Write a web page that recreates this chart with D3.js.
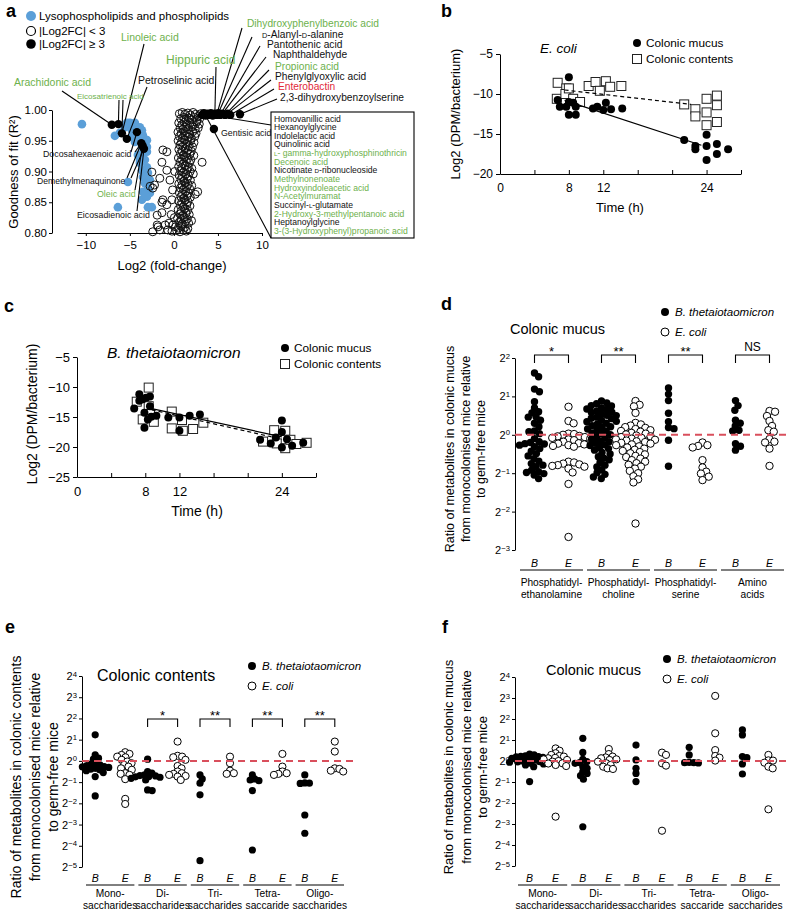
<!DOCTYPE html>
<html><head><meta charset="utf-8">
<script src="https://cdn.jsdelivr.net/npm/d3@7/dist/d3.min.js"></script>
<style>html,body{margin:0;padding:0;background:#fff;} svg{display:block;}</style>
</head><body>
<svg id="fig" width="788" height="911"></svg>
<script>
// ================= DATA =================
// ---- Panel a : [log2 fold-change, goodness of fit R2]
const aLysoPoints = [
 [-10.44,0.977],[-6.70,0.958],[-6.13,0.963],[-5.56,0.972],[-4.99,0.979],[-4.43,0.979],[-3.86,0.972],
 [-4.77,0.967],[-4.09,0.963],[-3.52,0.959],[-3.63,0.948],[-4.43,0.948],[-4.77,0.956],[-3.06,0.940],
 [-3.52,0.930],[-4.09,0.927],[-3.29,0.919],[-3.86,0.914],[-3.06,0.907],[-3.63,0.902],[-2.95,0.898],
 [-3.52,0.891],[-2.72,0.886],[-3.29,0.881],[-2.95,0.873],[-3.52,0.867],[-2.72,0.865],[-3.06,0.859],
 [-6.36,0.842],[-5.22,0.883],[-2.50,0.842],[-3.86,0.919],[-3.06,0.932],[-3.63,0.940],[-5.33,0.979],
 [-4.20,0.972],[-3.63,0.967],[-3.06,0.951],[-3.86,0.956],[-2.95,0.842],[-3.63,0.854],[-3.29,0.862]
];
const aOpenPoints = [
 [0.62,0.994],[0.95,0.996],[1.24,0.993],[1.57,0.995],[1.86,0.992],[2.18,0.996],[2.47,0.993],[2.78,0.990],[3.05,0.994],
 [0.78,0.986],[1.12,0.988],[1.41,0.985],[1.73,0.987],[2.02,0.984],[2.33,0.988],[2.62,0.983],[2.93,0.986],
 [0.55,0.979],[0.92,0.976],[1.18,0.980],[1.52,0.977],[1.83,0.979],[2.21,0.976],[2.57,0.980],[2.88,0.977],
 [0.71,0.971],[1.04,0.969],[1.37,0.972],[1.68,0.970],[2.07,0.973],[2.42,0.969],[2.76,0.971],
 [0.46,0.964],[0.83,0.962],[1.13,0.965],[1.47,0.963],[1.79,0.961],[2.16,0.965],[2.51,0.962],
 [0.62,0.957],[0.97,0.955],[1.29,0.958],[1.66,0.956],[1.98,0.954],[2.37,0.957],
 [0.48,0.950],[0.86,0.948],[1.21,0.951],[1.54,0.949],[1.91,0.950],[2.28,0.947],
 [0.69,0.943],[1.02,0.941],[1.36,0.944],[1.72,0.942],[2.11,0.940],
 [0.56,0.936],[0.91,0.934],[1.26,0.937],[1.61,0.935],[1.97,0.933],
 [0.74,0.929],[1.08,0.927],[1.44,0.930],[1.81,0.928],[2.26,0.926],
 [0.51,0.922],[0.87,0.920],[1.19,0.923],[1.56,0.921],[1.92,0.919],
 [0.70,0.915],[1.06,0.913],[1.41,0.916],[1.77,0.914],[3.20,0.915],
 [0.54,0.908],[0.89,0.906],[1.24,0.909],[1.62,0.907],[2.03,0.905],
 [0.76,0.901],[1.11,0.899],[1.46,0.902],[1.84,0.900],[2.20,0.896],
 [0.59,0.894],[0.96,0.892],[1.31,0.895],[1.66,0.893],
 [0.81,0.887],[1.16,0.885],[1.51,0.888],[1.87,0.886],
 [0.56,0.880],[0.91,0.878],[1.26,0.881],[1.61,0.879],[2.02,0.877],
 [0.74,0.873],[1.09,0.871],[1.44,0.874],[1.79,0.872],[2.70,0.867],
 [0.61,0.866],[0.97,0.864],[1.32,0.867],[1.67,0.865],[2.42,0.863],
 [0.79,0.859],[1.14,0.857],[1.49,0.860],[1.86,0.858],
 [0.54,0.852],[0.89,0.850],[1.24,0.853],[1.59,0.851],
 [0.73,0.845],[1.08,0.843],[1.46,0.846],[1.82,0.844],
 [0.49,0.838],[0.84,0.836],[1.21,0.839],[1.56,0.837],[2.00,0.820],
 [0.68,0.831],[1.03,0.829],[1.38,0.832],[1.74,0.830],
 [0.41,0.824],[0.79,0.822],[1.14,0.825],[1.52,0.823],
 [0.58,0.817],[0.94,0.815],[1.31,0.818],[1.67,0.816],
 [0.18,0.810],[0.51,0.808],[0.86,0.811],[1.22,0.809],[1.58,0.807],
 [-0.22,0.803],[0.31,0.804],[0.69,0.802],[1.06,0.805],[1.41,0.803],
 [-1.25,0.935],[-0.80,0.932],[-1.36,0.915],[-0.80,0.902],[-2.50,0.899],[-1.60,0.889],[-2.40,0.873],
 [-2.70,0.876],[-0.45,0.886],[-1.25,0.854],[-0.23,0.854],[-1.36,0.850],[-0.80,0.846],[-1.36,0.833],
 [-1.90,0.829],[-1.80,0.810],[-2.40,0.802],[-1.90,0.813],[-1.00,0.813],[-0.55,0.816],[-1.60,0.805],
 [-0.70,0.805],[-0.10,0.813],[0.05,0.825],[-0.30,0.830],[-0.15,0.870],[0.10,0.900],[-2.20,0.878]
];
const aFilledPoints = [
 [-7.05,0.976],[-6.30,0.977],[-5.90,0.962],[-5.34,0.953],[-4.20,0.964],[-3.70,0.946],[-3.40,0.937],[-3.55,0.942],
 [3.20,0.992],[3.40,0.995],[3.60,0.991],[3.80,0.994],[4.00,0.992],[4.20,0.995],[4.40,0.991],[4.65,0.994],
 [4.85,0.992],[5.05,0.995],[5.25,0.992],[5.50,0.994],[5.80,0.992],[6.10,0.994],[6.40,0.992],[7.50,0.993],
 [4.54,0.969]
];
const aXTicks = [-10,-5,0,5,10];
const aYTicks = [0.80,0.85,0.90,0.95,1.00];
const aLegendLabels = ["Lysophospholipids and phospholipids","|Log2FC| < 3","|Log2FC| \u2265 3"];
// compound labels: text, class (0 black, 1 green, 2 red), index of linked point(s)
const aNamedLeft = [
 ["Arachidonic acid",1,[0]],["Eicosatrienoic acid",1,[1,2]],["Linoleic acid",1,[2]],["Petroselinic acid",0,[3]],
 ["Docosahexaenoic acid",0,[4,5]],["Demethylmenaquinone",0,[5,6]],["Oleic acid",1,[7]],["Eicosadienoic acid",0,[6]]
];
const aNamedTop = [
 ["Hippuric acid",1,15],["Dihydroxyphenylbenzoic acid",1,16],["{D}-Alanyl-{D}-alanine",0,17],["Pantothenic acid",0,18],
 ["Naphthaldehyde",0,19],["Propionic acid",1,20],["Phenylglyoxylic acid",0,21],["Enterobactin",2,22],
 ["2,3-dihydroxybenzoylserine",0,23]
];
const aGentisic = ["Gentisic acid",0,24];
const aBoxLabels = ["Homovanillic acid","Hexanoylglycine","Indolelactic acid","Quinolinic acid",
 "{L}- gamma-hydroxyphosphinothricin","Decenoic acid","Nicotinate {D}-ribonucleoside","Methylnonenoate",
 "Hydroxyindoleacetic acid","N-Acetylmuramat","Succinyl-{L}-glutamate","2-Hydroxy-3-methylpentanoic acid",
 "Heptanoylglycine","3-(3-Hydroxyphenyl)propanoic acid"];
const aBoxClass = [0,0,0,0,1,1,0,1,1,1,0,1,0,1];
const aBoxLinks = [12,10];

// ---- Panel b (E. coli): [time h, log2 DPM/bacterium]
const bMucus = [[6.7,-10.75],[6.95,-11.6],[7.7,-11.6],[8.0,-7.9],[8.0,-11.0],[8.0,-12.6],[8.8,-12.6],[8.8,-11.6],
 [8.5,-11.1],[10.8,-11.8],[11.3,-11.6],[12.3,-11.1],[12.0,-12.0],[12.9,-11.9],[14.2,-11.8],[21.4,-15.75],
 [22.7,-16.5],[22.7,-16.9],[24.0,-15.1],[24.0,-16.5],[24.0,-18.25],[25.2,-16.25],[25.2,-17.5],[26.5,-16.9]];
const bContents = [[6.7,-8.6],[6.6,-10.6],[7.7,-9.3],[7.6,-10.0],[8.0,-9.3],[8.5,-10.6],[9.3,-11.0],[10.3,-9.0],
 [11.1,-8.5],[11.6,-9.6],[12.3,-8.4],[12.8,-9.1],[14.1,-9.0],[21.4,-11.3],[22.7,-11.9],[22.7,-12.8],
 [24.0,-10.6],[24.0,-12.3],[24.0,-13.9],[25.2,-10.2],[25.2,-11.4],[25.2,-13.5]];
const bFitMucus = [[7.5,-10.8],[23.4,-16.4]];
const bFitContents = [[7.5,-9.5],[22.2,-11.3]];
// ---- Panel c (B. thetaiotaomicron)
const cMucus = [[6.7,-13.6],[7.3,-11.2],[7.3,-12.3],[7.7,-12.05],[8.1,-11.8],[7.9,-14.3],[7.9,-16.8],[8.3,-15.4],
 [8.55,-11.6],[8.55,-13.2],[8.7,-14.95],[9.3,-14.8],[10.7,-15.1],[12.0,-15.1],[12.0,-17.3],[13.2,-14.8],
 [14.4,-14.6],[21.45,-18.8],[22.7,-19.4],[23.3,-18.4],[24.0,-15.6],[24.0,-17.5],[24.0,-20.1],[24.6,-18.7],
 [25.2,-19.8],[26.5,-19.3]];
const cContents = [[7.0,-12.45],[7.7,-15.4],[8.4,-10.1],[8.4,-13.2],[8.55,-14.5],[9.0,-15.8],[11.1,-14.1],[11.1,-16.9],
 [12.3,-15.5],[12.4,-17.3],[13.6,-17.0],[14.8,-15.95],[21.8,-19.1],[23.1,-17.2],[23.4,-19.4],[24.4,-17.3],
 [24.4,-20.2],[25.0,-18.8],[25.7,-19.5],[26.9,-19.3]];
const cFitMucus = [[8.75,-13.6],[24.0,-18.3]];
const cFitContents = [[8.75,-13.8],[24.0,-18.7]];
const timeTicks = [0,4,8,12,16,20,24,28];
const timeLabels = [0,8,12,24];
const bYTicks = [-20,-15,-10,-5];
const cYTicks = [-25,-20,-15,-10,-5];
const legendBC = ["Colonic mucus","Colonic contents"];

// ---- Panel d : log2 ratio, colonic mucus (B = B. thetaiotaomicron, E = E. coli)
const dGroups = ["Phosphatidyl-|ethanolamine","Phosphatidyl-|choline","Phosphatidyl-|serine","Amino|acids"];
const dPE_B = [1.61,1.51,1.19,1.12,0.86,0.70,0.60,0.57,0.47,0.46,0.38,0.30,0.21,0.10,0.08,0.03,-0.10,-0.18,-0.20,
 -0.23,-0.24,-0.27,-0.31,-0.36,-0.43,-0.49,-0.55,-0.62,-0.69,-0.75,-0.79,-0.83,-0.92,-0.96,-0.98,-1.01,-1.05,-1.14];
const dPE_E = [0.73,0.36,0.30,0.03,0.02,0.00,-0.03,-0.04,-0.06,-0.08,-0.10,-0.12,-0.14,-0.18,-0.22,-0.23,-0.25,
 -0.27,-0.29,-0.31,-0.70,-0.72,-0.75,-0.77,-0.79,-0.81,-0.83,-0.88,-0.98,-1.28,-2.66];
const dPC_B = [0.88,0.83,0.81,0.76,0.75,0.70,0.67,0.66,0.62,0.59,0.58,0.54,0.51,0.50,0.46,0.43,0.42,0.38,0.35,0.34,
 0.30,0.28,0.24,0.21,0.19,0.15,0.12,0.10,0.05,0.03,0.00,-0.05,-0.08,-0.11,-0.16,-0.18,-0.22,-0.26,-0.28,-0.33,
 -0.36,-0.40,-0.46,-0.50,-0.57,-0.61,-0.65,-0.72,-0.79,-0.84,-0.91,-0.99,-1.03,-1.10,-1.14];
const dPC_E = [0.88,0.78,0.74,0.57,0.31,0.27,0.24,0.20,0.18,0.15,0.12,0.10,0.08,0.05,0.03,0.01,-0.02,-0.04,-0.06,
 -0.08,-0.10,-0.12,-0.13,-0.15,-0.17,-0.19,-0.21,-0.23,-0.25,-0.27,-0.30,-0.33,-0.36,-0.39,-0.42,-0.45,-0.48,
 -0.51,-0.55,-0.58,-0.62,-0.66,-0.70,-0.74,-0.78,-0.83,-0.88,-0.94,-1.00,-1.08,-1.16,-1.24,-2.31];
const dPS_B = [1.22,1.06,0.89,0.56,0.34,0.19,0.16,-0.14,-0.82];
const dPS_E = [-0.20,-0.27,-0.29,-0.33,-0.66,-0.85,-0.96,-1.01,-1.09,-1.18];
const dAA_B = [0.89,0.76,0.64,0.38,0.30,0.23,0.12,0.10,-0.23,-0.30,-0.40];
const dAA_E = [0.62,0.60,0.49,0.36,0.23,0.12,0.08,-0.11,-0.18,-0.20,-0.36,-0.81];
const dSig = ["*","**","**","NS"];
const powTicksD = [-3,-2,-1,0,1,2];

// ---- Panel e : colonic contents, saccharides
const sGroups = ["Mono-|saccharides","Di-|saccharides","Tri-|saccharides","Tetra-|saccaride","Oligo-|saccharides"];
const eMono_B = [1.23,0.28,0.13,0.08,-0.11,-0.14,-0.19,-0.22,-0.27,-0.28,-0.31,-0.35,-0.39,-0.42,-0.46,-0.55,-0.74,-1.65];
const eMono_E = [0.41,0.33,0.28,0.20,0.17,0.05,-0.03,-0.11,-0.19,-0.27,-0.35,-0.42,-0.58,-0.61,-0.66,-0.86,-1.79,-2.03];
const eDi_B = [0.08,-0.50,-0.58,-0.66,-0.69,-0.71,-0.74,-0.75,-0.77,-0.82,-0.90,-1.37,-1.40];
const eDi_E = [0.91,0.24,0.20,0.17,0.05,-0.24,-0.35,-0.50,-0.58,-0.61,-0.66,-0.71,-0.74,-0.90];
const eTri_B = [-0.66,-0.85,-1.05,-1.60,-4.70];
const eTri_E = [0.20,-0.11,-0.46,-0.58,-0.61];
const eTetra_B = [-0.66,-0.85,-0.90,-0.93,-1.40,-4.20];
const eTetra_E = [0.33,-0.27,-0.50,-0.58,-0.61,-0.66];
const eOligo_B = [-0.66,-1.05,-1.06,-1.04,-2.55,-3.41];
const eOligo_E = [0.91,0.44,-0.35,-0.38,-0.46,-0.50];
const eSig = ["","*","**","**","**"];
// ---- Panel f : colonic mucus, saccharides
const fMono_B = [0.33,0.29,0.24,0.22,0.21,0.20,0.17,0.13,0.12,0.08,0.05,0.02,0.00,-0.03,-0.04,-0.06,-0.11,-0.14,-0.19,-0.27,-0.98];
const fMono_E = [0.60,0.49,0.37,0.29,0.24,0.21,0.15,0.13,0.08,0.05,0.00,-0.03,-0.11,-0.12,-0.19,-0.24,-2.65];
const fDi_B = [1.08,0.41,0.08,-0.03,-0.08,-0.11,-0.27,-0.35,-0.51,-0.59,-0.70,-0.87,-3.13];
const fDi_E = [0.57,0.33,0.21,0.17,0.13,0.08,0.05,-0.03,-0.11,-0.19,-0.27,-0.35,-0.38];
const fTri_B = [0.76,0.05,-0.35,-0.59,-0.98];
const fTri_E = [0.40,0.29,-0.11,-0.22,-3.32];
const fTetra_B = [0.65,0.29,-0.08,-0.07,-0.09,-0.08];
const fTetra_E = [3.10,1.32,0.52,0.24,0.16,0.02];
const fOligo_B = [1.48,1.24,0.16,0.21,-0.14,-0.62];
const fOligo_E = [0.29,0.02,0.03,-0.08,-0.27,-0.35,-2.30];
const powTicksEF = [-5,-4,-3,-2,-1,0,1,2,3,4];
const speciesLegend = ["B. thetaiotaomicron","E. coli"];

// ================= DRAWING =================
const svg = d3.select("#fig");
const FONT = "'Liberation Sans', Arial, Helvetica, sans-serif";
const CLASS_COLOR = ["#111", "#6db14c", "#e2283a"];
const BLUE = "#5b9fd8", DASH_RED = "#d94f5c";

function rich(t, s) {
  String(s).split(/(\{[^}]+\})/).forEach(p => {
    if (!p) return;
    if (p[0] === "{") t.append("tspan").attr("font-size", "0.72em").text(p.slice(1, -1));
    else t.append("tspan").text(p);
  });
}
function T(g, x, y, s, o = {}) {
  const t = g.append("text").attr("font-family", FONT).attr("font-size", o.size || 11)
    .attr("fill", o.fill || "#000");
  if (o.rotate != null) t.attr("transform", `translate(${x},${y}) rotate(${o.rotate})`);
  else t.attr("x", x).attr("y", y);
  if (o.anchor) t.attr("text-anchor", o.anchor);
  if (o.weight) t.attr("font-weight", o.weight);
  if (o.italic) t.attr("font-style", "italic");
  if (o.dy) t.attr("dy", o.dy);
  rich(t, s);
  return t;
}
function styleAxis(g, size) {
  g.attr("font-family", FONT).attr("font-size", size);
  g.select(".domain").attr("stroke", "#000").attr("stroke-width", 1);
  g.selectAll(".tick line").attr("stroke", "#000").attr("stroke-width", 1);
  g.selectAll(".tick text").attr("fill", "#000");
}
function powLabels(g) {
  g.selectAll(".tick text").each(function(d) {
    const t = d3.select(this); t.text(null);
    t.append("tspan").text("2");
    t.append("tspan").attr("dy", "-0.45em").attr("font-size", "0.7em").text(d < 0 ? "\u2212" + (-d) : d);
  });
}
function swarm(vals, y, cx, diam) {
  const pts = vals.map(v => ({ v, y: y(v) })).sort((a, b) => a.y - b.y);
  const placed = [];
  for (const p of pts) {
    const near = placed.filter(q => Math.abs(q.y - p.y) < diam);
    const cands = [0];
    near.forEach(q => { const dx = Math.sqrt(diam * diam - (q.y - p.y) ** 2); cands.push(q.dx + dx + 0.01, q.dx - dx - 0.01); });
    cands.sort((a, b) => Math.abs(a) - Math.abs(b));
    for (const c of cands) {
      if (near.every(q => (q.dx - c) ** 2 + (q.y - p.y) ** 2 >= diam * diam - 0.05)) { p.dx = c; break; }
    }
    placed.push(p);
  }
  return placed.map(p => ({ v: p.v, x: cx + p.dx, y: p.y }));
}

// Panel letters
[["a",6,17],["b",441,17],["c",4,312],["d",441,310],["e",5,633],["f",442,633]].forEach(([s,x,y]) =>
  T(svg, x, y, s, { size: 18, weight: "bold" }));

// ---------- Panel a ----------
(function() {
  const g = svg.append("g");
  const x = d3.scaleLinear().domain([-11, 10]).range([77, 262]);
  const y = d3.scaleLinear().domain([0.8, 1.0]).range([233, 110]);
  g.append("g").attr("transform", "translate(52,0)")
    .call(d3.axisLeft(y).tickValues(aYTicks).tickFormat(d3.format(".2f")).tickSize(3).tickSizeOuter(0).tickPadding(2))
    .call(styleAxis, 11.5);
  g.append("g").attr("transform", "translate(0,233)")
    .call(d3.axisBottom(x).tickValues(aXTicks).tickSize(3).tickSizeOuter(0).tickPadding(5))
    .call(styleAxis, 11.5);
  T(g, 13, 172, "Goodness of fit (R\u00B2)", { size: 13, rotate: -90, anchor: "middle", dy: "0.35em" });
  T(g, 172, 270, "Log2 (fold-change)", { size: 13, anchor: "middle" });

  g.append("g").selectAll("circle").data(aLysoPoints).join("circle")
    .attr("cx", d => x(d[0])).attr("cy", d => y(d[1])).attr("r", 4.3).attr("fill", BLUE);
  g.append("g").selectAll("circle").data(aOpenPoints).join("circle")
    .attr("cx", d => x(d[0])).attr("cy", d => y(d[1])).attr("r", 4)
    .attr("fill", "none").attr("stroke", "#111").attr("stroke-width", 1);

  const P = i => [x(aFilledPoints[i][0]), y(aFilledPoints[i][1])];
  const lines = g.append("g").attr("stroke", "#000").attr("stroke-width", 1.1).attr("fill", "none");
  const seg = (a, b) => lines.append("line").attr("x1", a[0]).attr("y1", a[1]).attr("x2", b[0]).attr("y2", b[1]);

  // left labels layout: [x, baseline, size, anchor points for lines]
  const leftLayout = [
    [14, 86, 10.5, [[62, 91]]],
    [77, 99, 8, [[119, 100], [123, 100]]],
    [121, 41, 10.5, [[144, 44]]],
    [138, 84, 10.5, [[147, 87]]],
    [43, 157, 8.8, [[131, 152], [135, 152]]],
    [37, 184, 8.6, [[127, 178], [131, 178]]],
    [97, 197, 8.8, [[135, 190]]],
    [77, 218, 8.8, [[137, 211]]]
  ];
  aNamedLeft.forEach((lab, i) => {
    const L = leftLayout[i];
    T(g, L[0], L[1], lab[0], { size: L[2], fill: CLASS_COLOR[lab[1]] });
    lab[2].forEach((pi, k) => seg(L[3][Math.min(k, L[3].length - 1)], P(pi)));
  });
  const topLayout = [
    [166, 64, 12, [216, 67]],
    [247, 27, 10.2, [242, 28]],
    [262, 38, 10.2, [252, 37]],
    [267, 48, 10.2, [260, 46]],
    [273, 58, 10.2, [266, 57]],
    [275, 70, 10.2, [269, 70]],
    [275, 80, 10.2, [271, 80]],
    [278, 90, 10.2, [274, 89]],
    [280, 101, 10.2, [277, 99]]
  ];
  aNamedTop.forEach((lab, i) => {
    const L = topLayout[i];
    T(g, L[0], L[1], lab[0], { size: L[2], fill: CLASS_COLOR[lab[1]] });
    seg(L[3], P(lab[2]));
  });
  T(g, 221, 136, aGentisic[0], { size: 8.8, fill: CLASS_COLOR[aGentisic[1]] });

  // box
  g.append("rect").attr("x", 271).attr("y", 112).attr("width", 143).attr("height", 126)
    .attr("fill", "none").attr("stroke", "#000").attr("stroke-width", 1.1);
  seg(P(aBoxLinks[0]), [271, 125]);
  seg(P(aBoxLinks[1]), [271, 238]);
  aBoxLabels.forEach((s, i) => T(g, 274, 121.5 + i * 8.65, s, { size: 8.6, fill: CLASS_COLOR[aBoxClass[i]] }));

  g.append("g").selectAll("circle").data(aFilledPoints).join("circle")
    .attr("cx", d => x(d[0])).attr("cy", d => y(d[1])).attr("r", 4.2).attr("fill", "#000");

  // legend
  g.append("circle").attr("cx", 31).attr("cy", 16).attr("r", 5).attr("fill", BLUE);
  g.append("circle").attr("cx", 31).attr("cy", 31).attr("r", 4.5).attr("fill", "none").attr("stroke", "#000").attr("stroke-width", 1.2);
  g.append("circle").attr("cx", 31).attr("cy", 44).attr("r", 4.8).attr("fill", "#000");
  aLegendLabels.forEach((s, i) => T(g, 39, [20, 35, 48][i], s, { size: 11.5 }));
})();

// ---------- Panels b & c ----------
function timePanel(o) {
  const g = svg.append("g");
  const x = d3.scaleLinear().domain([0, 28]).range(o.xr);
  const y = d3.scaleLinear().domain(o.yd).range(o.yr);
  g.append("g").attr("transform", `translate(${o.xr[0]},0)`)
    .call(d3.axisLeft(y).tickValues(o.yt).tickSize(4).tickSizeOuter(0).tickPadding(3))
    .call(styleAxis, o.tick);
  g.append("g").attr("transform", `translate(0,${o.yr[0]})`)
    .call(d3.axisBottom(x).tickValues(timeTicks).tickFormat(d => timeLabels.includes(d) ? d : "")
      .tickSizeInner(-4).tickSizeOuter(0).tickPadding(o.pad))
    .call(styleAxis, o.tick);
  T(g, o.ylab[0], o.ylab[1], "Log2 (DPM/bacterium)", { size: o.lab, rotate: -90, anchor: "middle", dy: "0.35em" });
  T(g, o.xlab[0], o.xlab[1], "Time (h)", { size: o.lab, anchor: "middle" });
  T(g, o.title[0], o.title[1], o.title[2], { size: o.title[3], italic: true });
  const line = d3.line().x(d => x(d[0])).y(d => y(d[1]));
  g.append("g").selectAll("rect").data(o.contents).join("rect")
    .attr("x", d => x(d[0]) - 4.5).attr("y", d => y(d[1]) - 4.5).attr("width", 9).attr("height", 9)
    .attr("fill", "#fff").attr("stroke", "#222").attr("stroke-width", 1);
  g.append("g").selectAll("circle").data(o.mucus).join("circle")
    .attr("cx", d => x(d[0])).attr("cy", d => y(d[1])).attr("r", 4).attr("fill", "#000");
  g.append("path").attr("d", line(o.fitC)).attr("stroke", "#000").attr("stroke-width", 1.2)
    .attr("stroke-dasharray", "4,3").attr("fill", "none");
  g.append("path").attr("d", line(o.fitM)).attr("stroke", "#000").attr("stroke-width", 1.2).attr("fill", "none");
  const [lx, ly] = o.leg;
  g.append("circle").attr("cx", lx).attr("cy", ly).attr("r", 4).attr("fill", "#000");
  g.append("rect").attr("x", lx - 4.5).attr("y", ly + 16 - 4.5).attr("width", 9).attr("height", 9)
    .attr("fill", "#fff").attr("stroke", "#222");
  T(g, lx + 9, ly + 4, legendBC[0], { size: o.legSize });
  T(g, lx + 9, ly + 20, legendBC[1], { size: o.legSize });
}
timePanel({ xr: [500, 741], yd: [-20, -5], yr: [174, 54], yt: bYTicks, tick: 12, pad: 9, lab: 13,
  ylab: [455, 114], xlab: [620, 212], title: [540, 53, "E. coli", 13.5], mucus: bMucus, contents: bContents,
  fitM: bFitMucus, fitC: bFitContents, leg: [637, 43], legSize: 11.8 });
timePanel({ xr: [77, 316], yd: [-25, -5], yr: [477, 357], yt: cYTicks, tick: 13, pad: 10, lab: 14,
  ylab: [32, 414], xlab: [197, 516], title: [107, 358, "B. thetaiotaomicron", 15.5], mucus: cMucus, contents: cContents,
  fitM: cFitMucus, fitC: cFitContents, leg: [285, 348], legSize: 11.8 });

// ---------- Panels d, e, f ----------
function dotPanel(o) {
  const g = svg.append("g");
  const xb = d3.scaleBand().domain(o.groups).range(o.xr);
  const sub = d3.scalePoint().domain(["B", "E"]).range([-o.half, o.half]);
  const y = d3.scaleLinear().domain(o.yd).range(o.yr);
  g.append("g").attr("transform", `translate(${o.axisX},0)`)
    .call(d3.axisLeft(y).tickValues(o.yt).tickSize(3).tickSizeOuter(0).tickPadding(2))
    .call(styleAxis, 11).call(powLabels);
  o.ylab.forEach((s, i) => T(g, o.ylabX[i], o.ylabY, s, { size: o.ylabSize, rotate: -90, anchor: "middle", dy: "0.35em" }));
  T(g, o.title[0], o.title[1], o.title[2], { size: o.title[3] });
  // dots
  o.groups.forEach((grp, gi) => {
    const cx = xb(grp) + xb.bandwidth() / 2;
    ["B", "E"].forEach((sp, si) => {
      const pts = swarm(o.values[gi][si], y, cx + sub(sp), o.diam);
      g.append("g").selectAll("circle").data(pts).join("circle")
        .attr("cx", d => d.x).attr("cy", d => d.y).attr("r", o.r)
        .attr("fill", si === 0 ? "#000" : "#fff").attr("stroke", "#000").attr("stroke-width", si === 0 ? 0 : 1);
    });
    // axis labels
    ["B", "E"].forEach(sp => T(g, cx + sub(sp), o.beY, sp, { size: 10.5, italic: true, anchor: "middle" }));
    g.append("line").attr("x1", xb(grp) + 2).attr("x2", xb(grp) + xb.bandwidth() - 2)
      .attr("y1", o.ulY).attr("y2", o.ulY).attr("stroke", "#000").attr("stroke-width", 1);
    grp.split("|").forEach((s, li) => T(g, cx, o.glY + li * 11.5, s, { size: 10.2, anchor: "middle" }));
    const sig = o.sig[gi];
    if (sig) {
      const x1 = cx + sub("B"), x2 = cx + sub("E"), by = o.brY;
      g.append("path").attr("d", `M${x1},${by + 8}V${by}H${x2}V${by + 8}`)
        .attr("fill", "none").attr("stroke", "#000").attr("stroke-width", 1.1);
      T(g, (x1 + x2) / 2, sig === "NS" ? by - 4 : by + 1, sig, { size: sig === "NS" ? 12 : 13, anchor: "middle" });
    }
  });
  g.append("line").attr("x1", o.axisX).attr("x2", o.dashEnd).attr("y1", y(0)).attr("y2", y(0))
    .attr("stroke", DASH_RED).attr("stroke-width", 2).attr("stroke-dasharray", "7,5");
  // legend
  const [lx, ly] = o.leg;
  g.append("circle").attr("cx", lx).attr("cy", ly).attr("r", 4).attr("fill", "#000");
  g.append("circle").attr("cx", lx).attr("cy", ly + 20).attr("r", 4).attr("fill", "#fff").attr("stroke", "#000").attr("stroke-width", 1);
  speciesLegend.forEach((s, i) => T(g, lx + 10, ly + 4 + i * 20, s, { size: 11.5, italic: true }));
}
dotPanel({
  groups: dGroups, xr: [518, 786], half: 17, yd: [-3, 2], yr: [550, 358], yt: powTicksD, axisX: 515,
  values: [[dPE_B, dPE_E], [dPC_B, dPC_E], [dPS_B, dPS_E], [dAA_B, dAA_E]], diam: 5.6, r: 3.7,
  ylab: ["Ratio of metabolites in colonic mucus", "from monocolonised mice relative", "to germ-free mice"],
  ylabX: [450, 466, 481], ylabY: 449, ylabSize: 12.5, title: [510, 334, "Colonic mucus", 14.5],
  beY: 567, ulY: 570, glY: 586, sig: dSig, brY: 355, dashEnd: 786, leg: [665, 312]
});
dotPanel({
  groups: sGroups, xr: [84, 346], half: 15, yd: [-5, 4], yr: [867, 676], yt: powTicksEF, axisX: 82,
  values: [[eMono_B, eMono_E], [eDi_B, eDi_E], [eTri_B, eTri_E], [eTetra_B, eTetra_E], [eOligo_B, eOligo_E]],
  diam: 4.6, r: 3.6,
  ylab: ["Ratio of metabolites in colonic contents", "from monocolonised mice relative", "to germ-free mice"],
  ylabX: [16, 35, 53], ylabY: 777, ylabSize: 14, title: [97, 681, "Colonic contents", 16],
  beY: 882, ulY: 885, glY: 897, sig: eSig, brY: 719, dashEnd: 355, leg: [252, 666]
});
dotPanel({
  groups: sGroups, xr: [516, 782], half: 13, yd: [-5, 4], yr: [866, 677], yt: powTicksEF, axisX: 515,
  values: [[fMono_B, fMono_E], [fDi_B, fDi_E], [fTri_B, fTri_E], [fTetra_B, fTetra_E], [fOligo_B, fOligo_E]],
  diam: 4.6, r: 3.6,
  ylab: ["Ratio of metabolites in colonic mucus", "from monocolonised mice relative", "to germ-free mice"],
  ylabX: [448, 466, 482], ylabY: 767, ylabSize: 13, title: [546, 675, "Colonic mucus", 14.5],
  beY: 882, ulY: 885, glY: 897, sig: ["", "", "", "", ""], brY: 0, dashEnd: 788, leg: [667, 659]
});
</script>
</body></html>
